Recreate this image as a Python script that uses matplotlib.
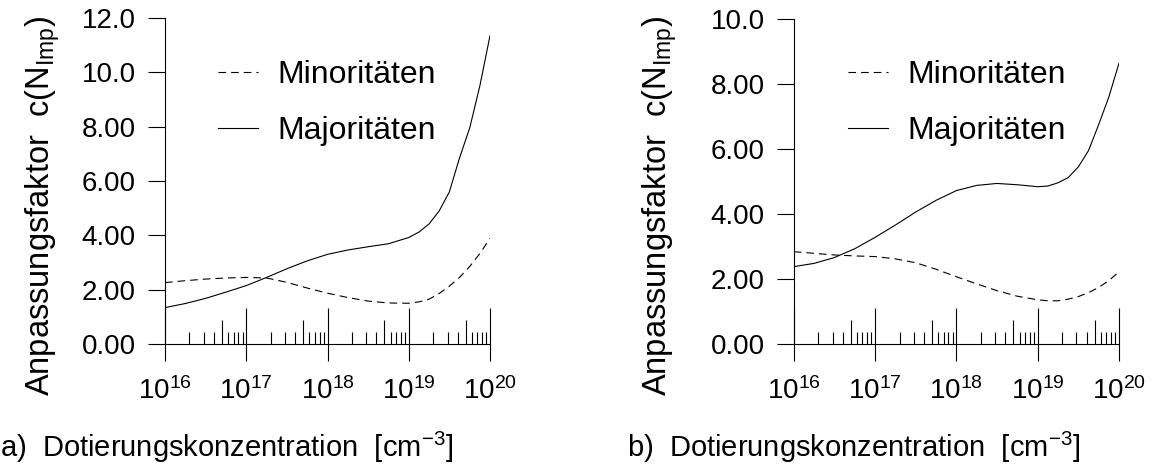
import numpy as np
import matplotlib
matplotlib.use("Agg")
from matplotlib import pyplot as plt
from matplotlib.ticker import FixedLocator, NullFormatter

plt.rcParams['font.family'] = ['Liberation Sans', 'DejaVu Sans']
plt.rcParams['mathtext.fontset'] = 'custom'
plt.rcParams['mathtext.rm'] = 'Liberation Sans'
plt.rcParams['mathtext.it'] = 'Liberation Sans'
plt.rcParams['mathtext.bf'] = 'Liberation Sans:bold'
plt.rcParams['lines.scale_dashes'] = False

# doping concentration exponents (cm^-3)
log_n = [16.0, 16.25, 16.5, 16.75, 17.0, 17.25, 17.5, 17.75, 18.0,
         18.25, 18.5, 18.75, 19.0, 19.125, 19.25, 19.375, 19.5,
         19.625, 19.75, 19.875, 20.0]

# panel a)
a_minor = [2.26, 2.33, 2.39, 2.43, 2.45, 2.43, 2.27, 2.06, 1.87,
           1.71, 1.58, 1.51, 1.50, 1.55, 1.65, 1.86, 2.13,
           2.45, 2.85, 3.33, 3.89]
a_major = [1.34, 1.49, 1.68, 1.91, 2.15, 2.45, 2.77, 3.06, 3.30,
           3.46, 3.58, 3.69, 3.92, 4.12, 4.42, 4.90, 5.60,
           6.85, 7.95, 9.50, 11.35]
a_yticks = [0, 2, 4, 6, 8, 10, 12]
a_ylabels = ["0.00", "2.00", "4.00", "6.00", "8.00", "10.0", "12.0"]

# panel b)
b_minor = [2.84, 2.79, 2.74, 2.71, 2.69, 2.62, 2.50, 2.30, 2.07,
           1.85, 1.64, 1.47, 1.36, 1.33, 1.33, 1.38, 1.46,
           1.58, 1.74, 1.95, 2.22]
b_major = [2.38, 2.48, 2.66, 2.93, 3.28, 3.66, 4.06, 4.42, 4.72,
           4.88, 4.94, 4.90, 4.84, 4.86, 4.96, 5.12, 5.45,
           5.95, 6.75, 7.60, 8.64]
b_yticks = [0, 2, 4, 6, 8, 10]
b_ylabels = ["0.00", "2.00", "4.00", "6.00", "8.00", "10.0"]

decades = [1e16, 1e17, 1e18, 1e19, 1e20]
small_minor = [m * d for d in decades[:-1] for m in (2, 3, 4, 6, 7, 8, 9)]
mid_minor = [5 * d for d in decades[:-1]]

lw = 0.8
fig = plt.figure(figsize=(11.57, 4.68), dpi=100)


def panel(rect, minor, major, yticks, ylabels, ylab_x, leg_xy):
    ax = fig.add_axes(rect)
    x = 10.0 ** np.array(log_n)
    ax.plot(x, minor, color='black', lw=lw, ls=(0, (5.5, 3.6)), label='Minoritäten')
    ax.plot(x, major, color='black', lw=lw, label='Majoritäten')
    ax.set_xscale('log')
    ax.set_xlim(1e16, 1e20)
    ax.set_ylim(yticks[0], yticks[-1])
    for s in ('top', 'right'):
        ax.spines[s].set_visible(False)
    for s in ('left', 'bottom'):
        ax.spines[s].set_linewidth(lw)
    ax.set_yticks(yticks)
    ax.set_yticklabels(ylabels)
    ax.tick_params(axis='y', direction='out', length=12, width=lw, pad=9, labelsize=20)
    ax.xaxis.set_major_locator(FixedLocator(decades))
    ax.xaxis.set_minor_locator(FixedLocator(small_minor))
    ax.xaxis.set_minor_formatter(NullFormatter())
    ax.tick_params(axis='x', which='major', direction='out', length=12, width=lw,
                   pad=12, labelsize=20)
    ax.tick_params(axis='x', which='minor', direction='in', length=8.5, width=lw)

    # upward decade ticks and the taller ticks at 5
    ax2 = ax.twiny()
    ax2.set_xscale('log')
    ax2.set_xlim(1e16, 1e20)
    for s in ax2.spines.values():
        s.set_visible(False)
    ax2.xaxis.set_ticks_position('bottom')
    ax2.xaxis.set_major_locator(FixedLocator(decades))
    ax2.xaxis.set_minor_locator(FixedLocator(mid_minor))
    ax2.xaxis.set_major_formatter(NullFormatter())
    ax2.xaxis.set_minor_formatter(NullFormatter())
    ax2.tick_params(axis='x', which='major', direction='in', length=25.7, width=lw,
                    labelbottom=False, labeltop=False)
    ax2.tick_params(axis='x', which='minor', direction='in', length=17.3, width=lw,
                    labelbottom=False, labeltop=False)

    ax.legend(loc='upper left', bbox_to_anchor=leg_xy, frameon=False, fontsize=23,
              handlelength=1.25, handletextpad=0.62, labelspacing=0.8,
              borderaxespad=0, borderpad=0)

    fig.text(ylab_x, 1 - 206 / 468, r'Anpassungsfaktor  c(N$_{\mathrm{Imp}}$)',
             rotation=90, rotation_mode='anchor', ha='center', va='baseline',
             fontsize=23.5)
    return ax


panel([165 / 1157, 124 / 468, 325 / 1157, 326 / 468], a_minor, a_major,
      a_yticks, a_ylabels, 50 / 1157, (0.163, 0.87))
panel([793.7 / 1157, 124 / 468, 325.3 / 1157, 325 / 468], b_minor, b_major,
      b_yticks, b_ylabels, 667 / 1157, (0.167, 0.873))

fig.text(0.0, 1 - 457 / 468, r'a)  Dotierungskonzentration  [cm$^{-3}$]',
         ha='left', va='baseline', fontsize=21)
fig.text(627 / 1157, 1 - 457 / 468, r'b)  Dotierungskonzentration  [cm$^{-3}$]',
         ha='left', va='baseline', fontsize=21)

fig.savefig('out.png', dpi=100)
